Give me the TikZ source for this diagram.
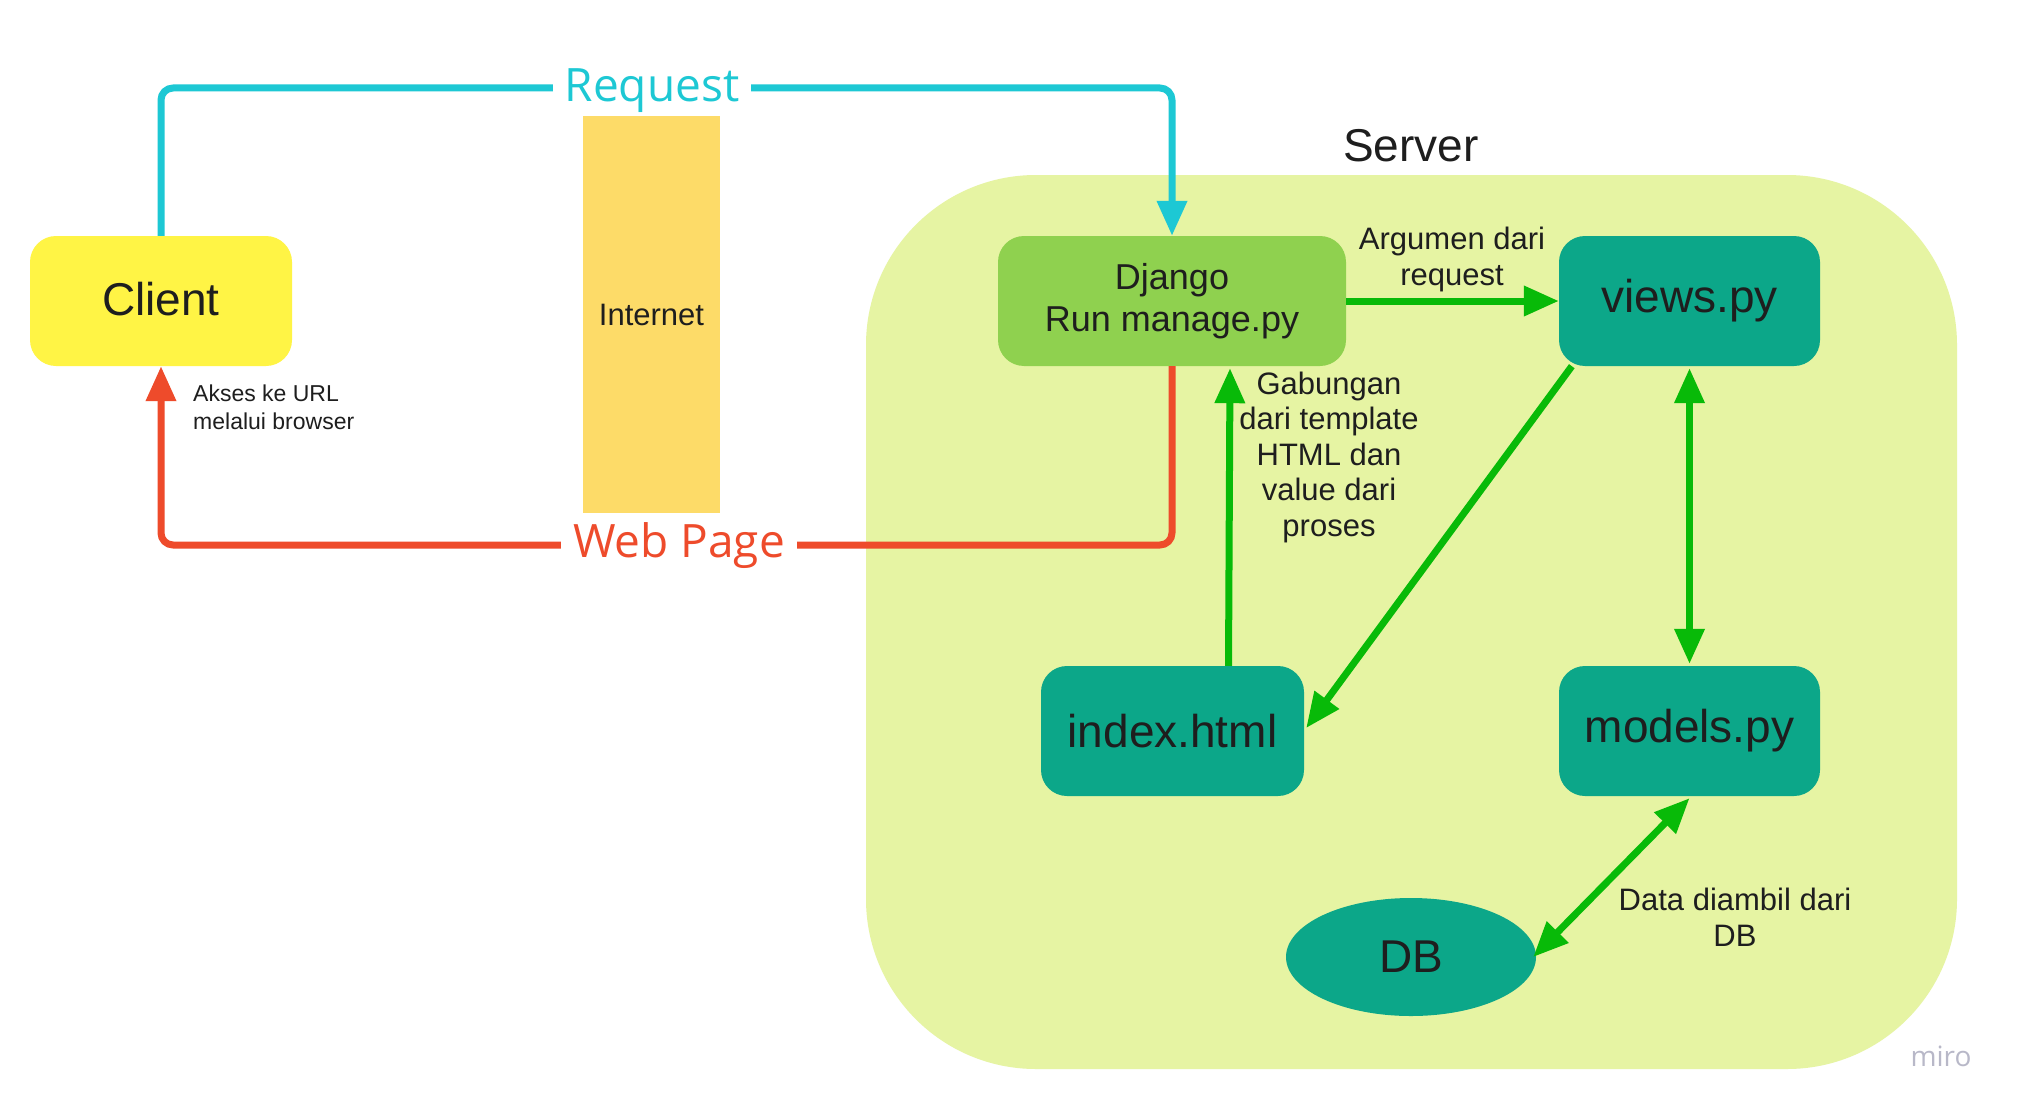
\documentclass[tikz,border=0pt]{standalone}
\usepackage{fontspec}
\setmainfont{Liberation Sans}
\newfontfamily\osans{Open Sans}
\usetikzlibrary{arrows.meta,calc,shapes.geometric}
\definecolor{cyanline}{HTML}{1DC8D4}
\definecolor{redline}{HTML}{EE4B2B}
\definecolor{greenline}{HTML}{08BA08}
\definecolor{clientyellow}{HTML}{FFF445}
\definecolor{netyellow}{HTML}{FDDB68}
\definecolor{serverbg}{HTML}{E6F4A3}
\definecolor{djangogreen}{HTML}{8FD14F}
\definecolor{teal}{HTML}{0CA789}
\definecolor{txt}{HTML}{1E1E1E}
\definecolor{mirogray}{HTML}{B8B8C8}
\tikzset{
  box/.style={rounded corners=26pt, minimum width=262pt, minimum height=130pt, inner sep=0pt, text=txt, align=center},
  bigtext/.style={font=\fontsize{46}{55}\selectfont},
  midtext/.style={font=\fontsize{36}{42}\selectfont},
  lbl/.style={text=txt, align=center, inner sep=0pt, font=\fontsize{31}{36}\selectfont},
  tip/.style={-{Triangle[length=35pt,width=29pt]}},
  dtip/.style={{Triangle[length=35pt,width=29pt]}-{Triangle[length=35pt,width=29pt]}},
  conn/.style={line width=7pt, line join=round},
}
\begin{document}
\begin{tikzpicture}[x=1pt,y=-1pt]
\useasboundingbox (0,0) rectangle (2020,1113);
\fill[white] (0,0) rectangle (2020,1113);

% server background
\fill[serverbg, rounded corners=170pt] (866,175) rectangle (1957,1069);
\node[text=txt, inner sep=0pt, font=\fontsize{46}{55}\selectfont] (serverlbl) at (1411,146) {Server};

% internet
\node[fill=netyellow, minimum width=137pt, minimum height=397pt, inner sep=0pt, text=txt, font=\fontsize{31}{36}\selectfont] (internet) at (651.5,314.5) {Internet};

% nodes
\node[box, bigtext, fill=clientyellow] (client) at (161,301) {\raisebox{4pt}{Client}};
\node[box, midtext, fill=djangogreen, minimum width=348pt] (django) at (1172,301) {Django\\Run manage.py};
\node[box, bigtext, fill=teal, minimum width=261pt] (views) at (1689.5,301) {views.py};
\node[box, bigtext, fill=teal, minimum width=263pt] (index) at (1172.5,731) {index.html};
\node[box, bigtext, fill=teal, minimum width=261pt] (models) at (1689.5,731) {models.py};
\node[ellipse, fill=teal, minimum width=250pt, minimum height=118pt, inner sep=0pt, text=txt, bigtext] (db) at (1411,957) {DB};

% coordinates for the outer lines
\coordinate (rq) at (0,88);
\coordinate (wp) at (0,545);

% request line
\draw[conn, cyanline, rounded corners=12pt, tip] (client.north) -- (client.north |- rq) -- (django.north |- rq) -- (django.north);
\node[fill=white, text=cyanline, inner xsep=12pt, inner ysep=1pt, font=\osans\fontsize{46}{55}\selectfont] (reqtxt) at (652,91) {Request};

% web page line
\draw[conn, redline, rounded corners=12pt, tip] (django.south) -- (django.south |- wp) -- (client.south |- wp) -- (client.south);
\node[fill=white, text=redline, inner xsep=12pt, inner ysep=1pt, font=\osans\fontsize{46}{55}\selectfont] (wptxt) at (679,546) {Web Page};

\node[text=txt, align=left, anchor=west, inner sep=0pt, font=\fontsize{23}{28}\selectfont] (akses) at (193,407) {Akses ke URL\\melalui browser};

% green connectors
\draw[conn, greenline, tip] (django.east) -- (views.west);
\node[lbl] (arglbl) at (1452,259) {Argumen dari\\request};

\draw[conn, greenline, tip] ($(index.north)+(56,0)$) -- ($(django.south)+(58,2)$);
\node[lbl, font=\fontsize{31}{35.5}\selectfont] (gablbl) at (1329,457) {Gabungan\\dari template\\HTML dan\\value dari\\proses};

\draw[conn, greenline, tip] ($(views.south west)+(13,0)$) -- ($(index.east)+(2,-3)$);

\draw[conn, greenline, dtip] ($(views.south)+(0,2)$) -- ($(models.north)+(0,-2)$);

\draw[conn, greenline, dtip] ($(models.south)+(0,2)$) -- ($(db.east)+(-3,0)$);
\node[lbl] (datalbl) at (1735,917) {Data diambil dari\\DB};

\node[text=mirogray, inner sep=0pt, font=\osans\fontsize{28}{32}\selectfont] (miro) at (1941,1056) {miro};
\end{tikzpicture}
\end{document}
